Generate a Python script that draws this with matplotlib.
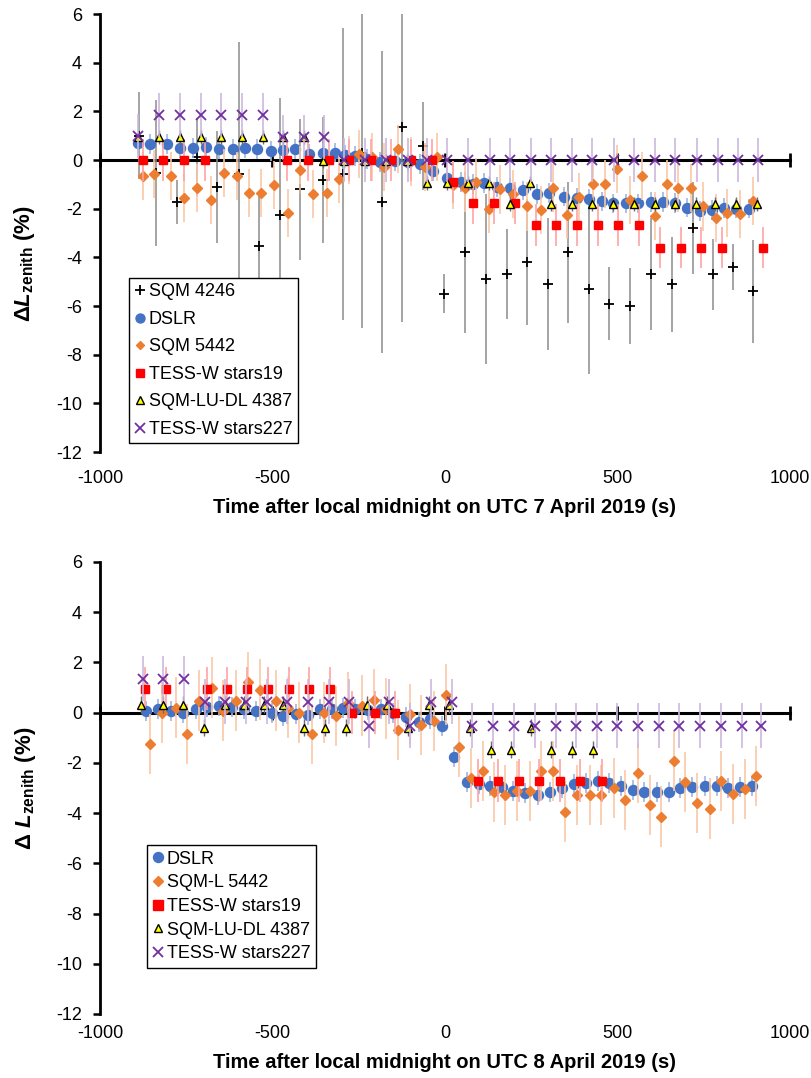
import matplotlib
matplotlib.use("Agg")
import matplotlib.pyplot as plt
from matplotlib.lines import Line2D

plt.rcParams['font.family'] = ['Liberation Sans', 'DejaVu Sans']
plt.rcParams['axes.unicode_minus'] = False
plt.rcParams['mathtext.fontset'] = 'custom'
plt.rcParams['mathtext.rm'] = 'Liberation Sans:bold'
plt.rcParams['mathtext.it'] = 'Liberation Sans:italic:bold'
plt.rcParams['mathtext.bf'] = 'Liberation Sans:bold'

# ---------------- 7 April 2019 (top panel) ----------------
sqm4246_t = [-887, -838, -777, -719, -661, -597, -539, -478, -420, -354, -296, -241, -183, -125, -63,
             -3, 58, 119, 180, 238, 299, 357, 417, 475, 536, 597, 658, 719, 777, 835, 893]
sqm4246_y = [1.0, -0.53, -1.73, 0.12, -1.1, -0.57, -3.54, -2.26, -1.2, -0.82, -0.58, 0.29, -1.73, 1.36, 0.58,
             -5.5, -3.8, -4.9, -4.7, -4.2, -5.1, -3.8, -5.3, -5.9, -6.0, -4.7, -5.1, -2.8, -4.7, -4.4, -5.4]
sqm4246_err = [1.8, 3.0, 0.9, 1.6, 2.3, 5.4, 2.2, 4.8, 2.9, 2.6, 6.0, 7.2, 6.2, 8.0, 1.8,
               0.8, 3.3, 3.5, 1.85, 2.6, 2.7, 2.9, 3.5, 1.5, 1.55, 2.3, 1.95, 1.9, 1.45, 0.95, 2.1]

dslr1_t = [-890, -855, -806, -768, -730, -693, -655, -614, -580, -545, -504, -470, -435, -394, -354,
           -319, -290, -261, -225, -188, -145, -108, -72, -35, 6, 46, 81, 113, 151, 188,
           226, 267, 301, 345, 383, 417, 455, 487, 525, 559, 597, 632, 667, 701, 739, 774, 809, 843, 881]
dslr1_y = [0.70, 0.66, 0.66, 0.50, 0.50, 0.55, 0.45, 0.45, 0.50, 0.45, 0.37, 0.40, 0.45, 0.25, 0.30,
           0.30, 0.22, 0.16, 0.05, -0.08, -0.04, -0.10, -0.16, -0.45, -0.74, -0.90, -0.98, -0.94, -1.10, -1.15,
           -1.25, -1.40, -1.36, -1.50, -1.55, -1.60, -1.70, -1.78, -1.78, -1.78, -1.73, -1.73, -1.76, -1.96,
           -2.10, -2.05, -1.98, -2.00, -2.00]
dslr1_err = 0.4

sqm5442_t = [-875, -843, -794, -756, -719, -678, -641, -603, -568, -533, -496, -455, -420, -383, -342,
             -307, -278, -249, -212, -177, -136, -98, -58, -23, 23, 58, 90, 128, 160, 197,
             238, 278, 313, 354, 388, 429, 464, 499, 536, 571, 609, 643, 675, 713, 748, 786, 817, 855, 893]
sqm5442_y = [-0.66, -0.58, -0.66, -1.56, -1.15, -1.65, -0.53, -0.66, -1.36, -1.36, -1.03, -2.18, -0.41, -1.40, -1.36,
             -0.78, 0.0, 0.25, 0.12, -0.29, 0.45, -0.05, -0.29, 0.12, -1.03, -1.15, -0.90, -2.0, -1.2, -1.40,
             -1.90, -2.05, -1.15, -2.26, -1.52, -0.99, -0.99, -0.37, -1.65, -0.66, -2.30, -0.99, -1.15, -1.15,
             -1.90, -2.38, -2.18, -2.22, -1.69]
sqm5442_err = 1.0

tess19_t = [-875, -817, -757, -696, -458, -397, -336, -278, -214, -157, -99, -38, 23, 81, 142,
            203, 264, 322, 383, 443, 501, 562, 623, 684, 742, 803, 922]
tess19_y = [0, 0, 0, 0, 0, 0, 0, 0, 0, 0, 0, 0, -0.9, -1.77, -1.77,
            -1.77, -2.67, -2.67, -2.67, -2.67, -2.67, -2.67, -3.6, -3.6, -3.6, -3.6, -3.6]
tess19_err = 0.85

sqmlu_t = [-890, -829, -768, -707, -649, -588, -528, -470, -409, -354, -293, -232, -171, -110, -52,
           6, 67, 128, 188, 246, 307, 368, 426, 487, 548, 609, 667, 728, 783, 843, 904]
sqmlu_y = [0.95, 0.95, 0.95, 0.95, 0.95, 0.95, 0.95, 0.95, 0.95, -0.04, -0.04, -0.04, -0.04, -0.04, -0.95,
           -0.95, -0.95, -0.95, -1.8, -0.95, -1.8, -1.8, -1.8, -1.8, -1.8, -1.8, -1.8, -1.8, -1.8, -1.8, -1.8]
sqmlu_err = 0.3

tess227_t = [-890, -829, -768, -707, -649, -588, -528, -470, -409, -351, -293, -232, -171, -107, -52,
             6, 67, 130, 188, 249, 307, 368, 426, 490, 548, 609, 667, 730, 791, 849, 907]
tess227_y = [1.0, 1.85, 1.85, 1.85, 1.85, 1.85, 1.85, 0.95, 0.95, 0.95, 0, 0, 0, 0, 0,
             0, 0, 0, 0, 0, 0, 0, 0, 0, 0, 0, 0, 0, 0, 0, 0]
tess227_err = 0.9

# ---------------- 8 April 2019 (bottom panel) ----------------
dslr2_t = [-867, -832, -794, -759, -722, -690, -655, -617, -583, -548, -501, -470, -432, -397, -362,
           -328, -296, -261, -224, -186, -150, -113, -75, -43, -9, 26, 64, 99, 130, 165,
           197, 232, 270, 304, 339, 374, 409, 443, 475, 510, 545, 577, 614, 649, 681, 716, 753, 788, 820, 855, 890]
dslr2_y = [0.08, 0.16, 0.08, 0, 0.16, 0.24, 0.28, 0.24, 0.16, 0.08, 0, -0.12, -0.04, -0.08, 0.16,
           0.16, 0.2, 0.16, 0.12, 0.16, 0, -0.16, -0.36, -0.24, -0.52, -1.75, -2.75, -2.83, -2.91, -2.95,
           -3.11, -3.19, -3.27, -3.15, -2.99, -2.83, -2.79, -2.71, -2.79, -2.91, -3.07, -3.15, -3.15, -3.15,
           -2.99, -2.95, -2.91, -2.91, -2.99, -2.95, -2.91]
dslr2_err = 0.4

sqml5442_t = [-855, -820, -780, -748, -713, -675, -643, -606, -571, -536, -490, -455, -423, -386, -351,
              -316, -281, -241, -206, -171, -136, -101, -70, -32, 3, 41, 74, 109, 142, 174,
              209, 246, 278, 313, 348, 383, 420, 452, 490, 522, 559, 594, 626, 664, 696, 730, 768, 800, 835, 870, 901]
sqml5442_y = [-1.24, 0, 0.2, -0.84, 0.48, 1.0, 0.08, 0.48, 1.2, 0.92, 0.48, 0.2, 0, -0.84, 0,
              -0.12, 0.4, 0.28, 0.52, 0.16, -0.68, -0.04, -0.48, -0.32, 0.72, -1.35, -2.59, -2.31, -3.15, -3.27,
              -3.11, -3.11, -2.31, -2.31, -3.94, -3.27, -3.27, -3.27, -2.99, -3.47, -2.39, -3.67, -4.14, -1.91,
              -2.75, -3.59, -3.82, -2.71, -3.23, -3.03, -2.51]
sqml5442_err = 1.2

tess19b_t = [-870, -809, -690, -632, -574, -513, -452, -394, -333, -270, -203, -145, 96, 154, 214, 272, 333, 391, 455]
tess19b_y = [0.96, 0.96, 0.96, 0.96, 0.96, 0.96, 0.96, 0.96, 0.96, 0, 0, 0, -2.71, -2.71, -2.71, -2.71, -2.71, -2.71, -2.71]
tess19b_err = 0.85

sqmlub_t = [-881, -817, -759, -699, -638, -583, -525, -470, -409, -348, -287, -226, -168, -107, -46,
            12, 72, 133, 191, 249, 307, 368, 429]
sqmlub_y = [0.32, 0.32, 0.32, -0.6, 0.32, 0.32, 0.32, 0.32, -0.6, -0.6, -0.6, 0.32, 0.32, -0.6, 0.32,
            0.32, -0.6, -1.47, -1.47, -0.6, -1.47, -1.47, -1.47]
sqmlub_err = 0.35

tess227b_t = [-875, -817, -757, -696, -638, -577, -516, -458, -397, -336, -278, -220, -162, -101, -41,
              20, 78, 139, 200, 261, 322, 380, 441, 499, 559, 620, 678, 739, 800, 861, 916]
tess227b_y = [1.35, 1.35, 1.35, 0.44, 0.44, 0.44, 0.44, 0.44, 0.44, 0.44, 0.44, -0.52, 0.44, -0.52, 0.44,
              0.44, -0.52, -0.52, -0.52, -0.52, -0.52, -0.52, -0.52, -0.52, -0.52, -0.52, -0.52, -0.52, -0.52,
              -0.52, -0.52]
tess227b_err = 0.9

x_ticks = [-1000, -500, 0, 500, 1000]
y_ticks = [-12, -10, -8, -6, -4, -2, 0, 2, 4, 6]

# styles
STY = {
    'sqm4246': dict(fmt='+', color='black', ms=6.5, mew=1.3, ecolor='#8c8c8c', elinewidth=1.1),
    'dslr': dict(fmt='o', color='#4472C4', ms=7.2, ecolor='#9fb6e2', elinewidth=1.2),
    'sqm5442': dict(fmt='D', color='#ED7D31', ms=4.6, ecolor='#f9c8a6', elinewidth=1.2),
    'tess19': dict(fmt='s', color='#FF0000', ms=6.0, ecolor='#ffa3a3', elinewidth=1.2),
    'sqmlu': dict(fmt='^', mfc='#FFFF00', mec='black', color='black', ms=6.0, mew=1.0,
                  ecolor='#6e6e6e', elinewidth=1.0),
    'tess227': dict(fmt='x', color='#7030A0', ms=6.5, mew=1.3, ecolor='#cdb8de', elinewidth=1.2),
}


def handle(key, size_scale=1.0):
    s = dict(STY[key])
    m = s.pop('fmt')
    ms = s.pop('ms') * size_scale
    s.pop('ecolor')
    s.pop('elinewidth')
    col = s.pop('color')
    return Line2D([], [], ls='none', marker=m, ms=ms, color=col,
                  mfc=s.get('mfc', col), mec=s.get('mec', col), mew=s.get('mew', 1.0))


def series(ax, key, t, y, err, z):
    ax.errorbar(t, y, yerr=err, capsize=0, zorder=z, **STY[key])


def style_axes(ax, xlabel, ylabel, ylab_x, ylab_y, tick_pad, xlab_pad):
    ax.set_xlim(-1000, 1000)
    ax.set_ylim(-12, 6)
    ax.set_yticks(y_ticks)
    ax.set_xticks(x_ticks)
    for s in ['top', 'right']:
        ax.spines[s].set_visible(False)
    ax.spines['left'].set_linewidth(2)
    ax.spines['bottom'].set_position(('data', 0))
    ax.spines['bottom'].set_linewidth(2.2)
    ax.spines['bottom'].set_zorder(1)
    ax.tick_params(axis='y', direction='out', length=5, width=1.8, labelsize=13, pad=8)
    ax.tick_params(axis='x', direction='inout', length=10, width=2, labelbottom=False)
    sec = ax.secondary_xaxis('bottom')
    sec.set_xticks(x_ticks)
    sec.spines['bottom'].set_visible(False)
    sec.tick_params(length=0, labelsize=13, pad=tick_pad)
    sec.set_xlabel(xlabel, fontsize=14.5, fontweight='bold', labelpad=xlab_pad)
    ax.set_ylabel(ylabel, fontsize=16, fontweight='bold')
    ax.yaxis.set_label_coords(ylab_x, ylab_y)


fig = plt.figure(figsize=(8.11, 10.78), dpi=100)
ax1 = fig.add_axes([0.1233, 0.5807, 0.8508, 0.4063])
ax2 = fig.add_axes([0.1233, 0.0594, 0.8508, 0.4193])

# top panel
series(ax1, 'sqm4246', sqm4246_t, sqm4246_y, sqm4246_err, 3)
series(ax1, 'dslr', dslr1_t, dslr1_y, dslr1_err, 4)
series(ax1, 'sqm5442', sqm5442_t, sqm5442_y, sqm5442_err, 5)
series(ax1, 'tess19', tess19_t, tess19_y, tess19_err, 6)
series(ax1, 'sqmlu', sqmlu_t, sqmlu_y, sqmlu_err, 7)
series(ax1, 'tess227', tess227_t, tess227_y, tess227_err, 8)
style_axes(ax1, 'Time after local midnight on UTC 7 April 2019 (s)',
           r'$\Delta L_{\mathrm{zenith}}$ (%)', -0.092, 0.43, 13, 8)
leg1 = ax1.legend([handle('sqm4246'), handle('dslr', 0.9), handle('sqm5442', 0.9), handle('tess19', 0.9),
                   handle('sqmlu', 0.85), handle('tess227')],
                  ['SQM 4246', 'DSLR', 'SQM 5442', 'TESS-W stars19', 'SQM-LU-DL 4387', 'TESS-W stars227'],
                  loc='lower left', bbox_to_anchor=(0.042, 0.02), borderaxespad=0, fontsize=13,
                  fancybox=False, edgecolor='black', framealpha=1, borderpad=0.3, handlelength=0.6,
                  handletextpad=0.2, labelspacing=0.58)
leg1.get_frame().set_linewidth(1.0)
leg1.set_zorder(20)

# bottom panel
series(ax2, 'dslr', dslr2_t, dslr2_y, dslr2_err, 4)
series(ax2, 'sqm5442', sqml5442_t, sqml5442_y, sqml5442_err, 5)
series(ax2, 'tess19', tess19b_t, tess19b_y, tess19b_err, 6)
series(ax2, 'sqmlu', sqmlub_t, sqmlub_y, sqmlub_err, 7)
series(ax2, 'tess227', tess227b_t, tess227b_y, tess227b_err, 8)
style_axes(ax2, 'Time after local midnight on UTC 8 April 2019 (s)',
           r'$\Delta\ L_{\mathrm{zenith}}$ (%)', -0.09, 0.5, 8, 8)
leg2 = ax2.legend([handle('dslr'), handle('sqm5442', 1.1), handle('tess19', 1.1),
                   handle('sqmlu'), handle('tess227')],
                  ['DSLR', 'SQM-L 5442', 'TESS-W stars19', 'SQM-LU-DL 4387', 'TESS-W stars227'],
                  loc='lower left', bbox_to_anchor=(0.068, 0.102), borderaxespad=0, fontsize=13,
                  fancybox=False, edgecolor='black', framealpha=1, borderpad=0.3, handlelength=0.6,
                  handletextpad=0.2, labelspacing=0.37)
leg2.get_frame().set_linewidth(1.0)
leg2.set_zorder(20)

fig.savefig('out.png', dpi=100)
